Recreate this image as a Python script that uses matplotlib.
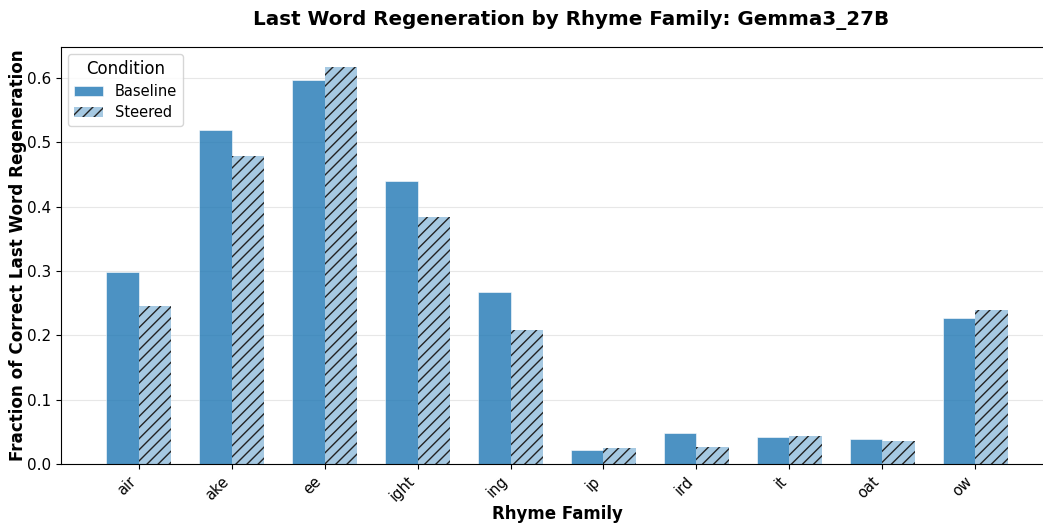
import numpy as np
import matplotlib
matplotlib.use("Agg")
import matplotlib.pyplot as plt

# Rhyme families and fractions
families = ["air", "ake", "ee", "ight", "ing", "ip", "ird", "it", "oat", "ow"]
baseline = [0.299, 0.519, 0.596, 0.439, 0.267, 0.022, 0.048, 0.042, 0.039, 0.227]
steered = [0.246, 0.479, 0.617, 0.384, 0.208, 0.025, 0.026, 0.044, 0.036, 0.239]

plt.rcParams["hatch.linewidth"] = 1.0

fig = plt.figure(figsize=(10.43, 5.23), dpi=100)
# axes runs a little past the right edge, like the cropped original
ax = fig.add_axes([61 / 1043, 59 / 523, 992 / 1043, 417 / 523])

x = np.arange(len(families))
width = 0.35

ax.bar(x - width / 2, baseline, width, color="#1f77b4", alpha=0.8,
       edgecolor="white", linewidth=0.5, label="Baseline", zorder=2)
ax.bar(x + width / 2, steered, width, color="#a6c9e2",
       edgecolor="#222222", linewidth=0, hatch="///", label="Steered", zorder=2)

ax.set_xticks(x)
ax.set_xticklabels(families, rotation=45, ha="right", fontsize=10.5)
ax.tick_params(axis="y", labelsize=11)
ax.set_xlim(-0.835, 9.835)
ax.set_ylim(0, 0.648)

ax.set_xlabel("Rhyme Family", fontsize=12, fontweight="bold")
ax.xaxis.set_label_coords(0.5, -0.098)
ax.set_ylabel("Fraction of Correct Last Word Regeneration", fontsize=12.1,
              fontweight="bold", labelpad=0)
fig.text(571 / 1043, 1 - 20 / 523, "Last Word Regeneration by Rhyme Family: Gemma3_27B",
         fontsize=14.3, fontweight="bold", ha="center", va="center")

ax.yaxis.grid(True, alpha=0.3, zorder=0)
ax.set_axisbelow(True)

ax.legend(title="Condition", fontsize=10.5, title_fontsize=12, loc="upper left",
          labelspacing=0.4)

fig.savefig("out.png", dpi=100)
